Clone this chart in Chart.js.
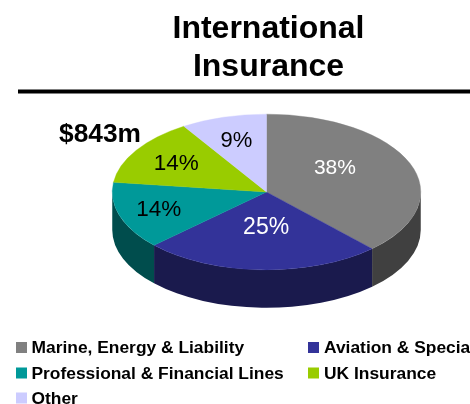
<!DOCTYPE html>
<html>
<head>
<meta charset="utf-8">
<style>html,body{margin:0;padding:0;background:#fff;overflow:hidden}#wrap{width:470px;height:404px;position:relative}</style>
<script src="https://cdn.jsdelivr.net/npm/chart.js@4"></script>
</head>
<body>
<div id="wrap"><canvas id="c" width="470" height="404"></canvas></div>
<script>
const titleLines = ["International", "Insurance"];
const totalLabel = "$843m";
const categories = ["Marine, Energy & Liability", "Aviation & Specia", "Professional & Financial Lines", "UK Insurance", "Other"];
const shares = [38, 25, 14, 14, 9];
const topColors = ["#808080", "#333399", "#009999", "#99CC00", "#CCCCFF"];
const sideColors = ["#404040", "#1A1A4D", "#004D4D", "#4D6600", "#66667F"];
const labelColors = ["#FFFFFF", "#FFFFFF", "#000000", "#000000", "#000000"];

const FONT = '"Liberation Sans", Arial, sans-serif';
const tilt = { cx: 266.5, cy: 192, squash: 78 / 154.5, depth: 38 };
const labelNudge = [[-32, -4], [3, -19], [-5, 1], [1, 1], [0, 1]];
const labelSizes = [21, 23, 22.5, 22.5, 22];
const legendCols = [16, 308];
const legendRows = [342, 367.5, 392.5];

const pieTilt = {
  id: 'pieTilt',
  beforeDatasetsDraw(chart) {
    const ctx = chart.ctx;
    const arcs = chart.getDatasetMeta(0).data;
    const sq = tilt.squash;
    ctx.save();
    arcs.forEach((arc, i) => {
      const a0 = Math.max(arc.startAngle, 0);
      const a1 = Math.min(arc.endAngle, Math.PI);
      if (a1 <= a0) return;
      const rx = arc.outerRadius, ry = rx * sq;
      ctx.beginPath();
      ctx.ellipse(tilt.cx, tilt.cy, rx, ry, 0, a0, a1);
      ctx.ellipse(tilt.cx, tilt.cy + tilt.depth, rx, ry, 0, a1, a0, true);
      ctx.closePath();
      ctx.fillStyle = sideColors[i];
      ctx.fill();
    });
    ctx.restore();
    const a = arcs[0];
    ctx.save();
    ctx.translate(tilt.cx, tilt.cy);
    ctx.scale(1, sq);
    ctx.translate(-a.x, -a.y);
  },
  afterDatasetsDraw(chart) {
    const ctx = chart.ctx;
    ctx.restore();
    const arcs = chart.getDatasetMeta(0).data;
    ctx.save();
    ctx.textAlign = 'center';
    ctx.textBaseline = 'middle';
    arcs.forEach((arc, i) => {
      const mid = (arc.startAngle + arc.endAngle) / 2;
      const r = arc.outerRadius * 0.7;
      const x = tilt.cx + Math.cos(mid) * r + labelNudge[i][0];
      const y = tilt.cy + Math.sin(mid) * r * tilt.squash + labelNudge[i][1];
      ctx.font = labelSizes[i] + 'px ' + FONT;
      ctx.fillStyle = labelColors[i];
      ctx.fillText(shares[i] + '%', x, y);
    });
    ctx.restore();
  },
  afterDraw(chart) {
    const ctx = chart.ctx;
    ctx.save();
    ctx.fillStyle = '#000';
    ctx.fillRect(18, 89.5, 452, 4);
    ctx.font = 'bold 26.3px ' + FONT;
    ctx.textAlign = 'left';
    ctx.textBaseline = 'alphabetic';
    ctx.fillText(totalLabel, 59, 142);
    ctx.font = 'bold 17.4px ' + FONT;
    categories.forEach((name, i) => {
      const x = legendCols[i % 2], y = legendRows[Math.floor(i / 2)];
      ctx.fillStyle = topColors[i];
      ctx.fillRect(x, y, 11, 11);
      ctx.fillStyle = '#000';
      ctx.fillText(name, x + (i % 2 ? 16 : 15.5), y + 11);
    });
    ctx.restore();
  }
};

new Chart(document.getElementById('c'), {
  type: 'pie',
  data: {
    labels: categories,
    datasets: [{
      data: shares,
      backgroundColor: topColors,
      borderColor: topColors,
      borderWidth: 0.5
    }]
  },
  options: {
    responsive: false,
    animation: false,
    layout: { padding: { left: 114, right: 47, top: 0, bottom: 0 } },
    plugins: {
      legend: { display: false },
      tooltip: { enabled: false },
      title: {
        display: true,
        text: titleLines,
        color: '#000',
        align: 'center',
        font: { family: FONT, size: 32, weight: 'bold', lineHeight: 1.19 },
        padding: { top: 10, bottom: 4 }
      }
    }
  },
  plugins: [pieTilt]
});
</script>
</body>
</html>
